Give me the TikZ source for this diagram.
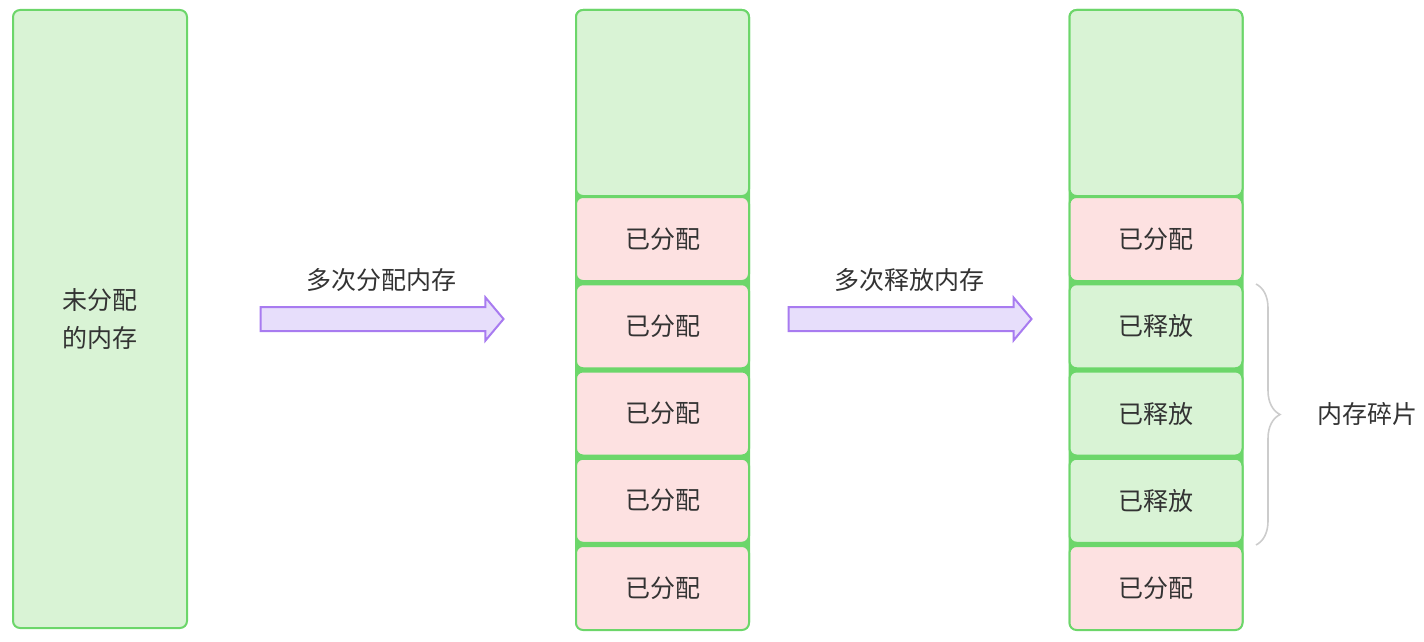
\documentclass[tikz,border=0pt]{standalone}
\usepackage{fontspec}
\setmainfont{Noto Sans CJK SC}
\usepackage{tikz}
\usetikzlibrary{shapes.arrows,decorations.pathreplacing}
\definecolor{greenx}{HTML}{6CD66A}
\definecolor{greenbg}{HTML}{D9F3D5}
\definecolor{pinkbg}{HTML}{FDE1E1}
\definecolor{purplex}{HTML}{A87BF0}
\definecolor{lilacbg}{HTML}{E7DEFB}
\definecolor{textx}{HTML}{333333}
\tikzset{
  blk/.style={draw=greenx,line width=2pt,rounded corners=7pt,fill=greenbg,inner sep=0pt},
  colbg/.style={blk,fill=greenx,minimum width=173pt,minimum height=619pt},
  fr/.style={blk,minimum width=173pt,minimum height=84pt,font=\fontsize{25}{30}\selectfont,text=textx},
  al/.style={fr,fill=pinkbg},
  mv/.style={single arrow,draw=purplex,fill=lilacbg,line width=2pt,minimum height=243pt,inner xsep=0pt,inner ysep=11pt,single arrow head extend=9.5pt,single arrow tip angle=100},
  lbl/.style={font=\fontsize{25}{30}\selectfont,text=textx,inner sep=0pt},
  brc/.style={decorate,decoration={brace,amplitude=24pt},draw=gray!40,line width=1.6pt}
}
\begin{document}
\begin{tikzpicture}[x=1pt,y=-1pt]
\useasboundingbox (0,0) rectangle (1424,642);
% left: free memory
\node[blk,minimum width=174pt,minimum height=618pt,align=center,lbl,font=\fontsize{25}{38}\selectfont] (raw) at (100,319) {未分配\\的内存};
% middle column
\node[colbg] (acol) at (662.5,319.5) {};
\node[blk,minimum width=173pt,minimum height=186pt] (atop) at (662.5,103) {};
\foreach \i in {1,...,5}{\node[al] (a\i) at (662.5,{239+87.25*(\i-1)}) {已分配};}
% right column
\node[colbg] (bcol) at (1156,319.5) {};
\node[blk,minimum width=173pt,minimum height=186pt] (btop) at (1156,103) {};
\foreach \i/\s/\t in {1/al/已分配,2/fr/已释放,3/fr/已释放,4/fr/已释放,5/al/已分配}{
  \node[\s] (b\i) at (1156,{239+87.25*(\i-1)}) {\t};}
% arrows
\node[mv] (mv1) at (377,319) {};
\node[lbl] (l1) at (381,280) {多次分配内存};
\node[mv] (mv2) at (905,319) {};
\node[lbl] (l2) at (909,280) {多次释放内存};
% fragments
\coordinate (bt) at (1256,284);
\coordinate (bb) at (1256,545);
\draw[brc] (bt) -- (bb);
\node[lbl] (frag) at (1367,414) {内存碎片};
\end{tikzpicture}
\end{document}
